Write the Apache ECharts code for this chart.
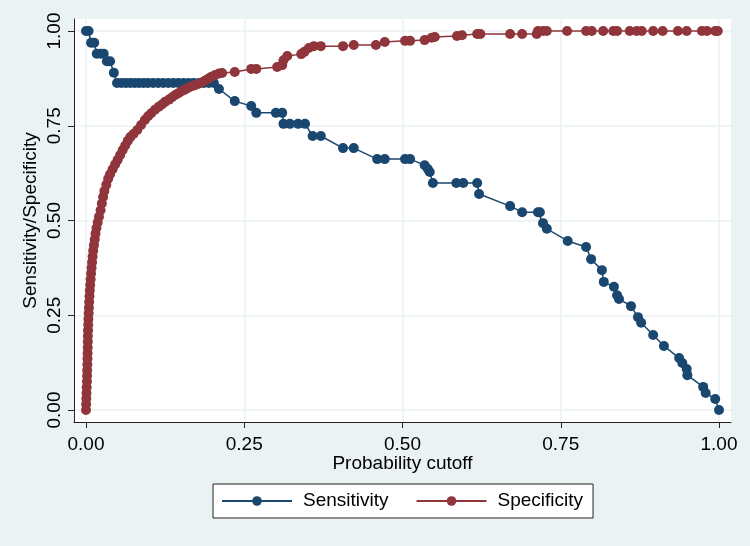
<!DOCTYPE html>
<html>
<head>
<meta charset="utf-8">
<script src="https://cdn.jsdelivr.net/npm/echarts@6/dist/echarts.min.js"></script>
<style>
html,body{margin:0;padding:0;background:#EAF2F3;}
#chart{width:750px;height:546px;}
</style>
</head>
<body>
<div id="chart"></div>
<script>
// ---- data ----
const seriesNames = ["Sensitivity", "Specificity"];
const tickValues = [0, 0.25, 0.5, 0.75, 1];
const xTitle = "Probability cutoff";
const yTitle = "Sensitivity/Specificity";

const sensX = [0, 0.004, 0.008, 0.013, 0.017, 0.023, 0.028, 0.033, 0.038, 0.044,
  0.049, 0.056, 0.063, 0.070, 0.077, 0.084, 0.091, 0.098, 0.106, 0.114, 0.122, 0.130,
  0.138, 0.146, 0.154, 0.162, 0.170, 0.178, 0.186, 0.194, 0.202,
  0.210, 0.235, 0.261, 0.269, 0.300, 0.310, 0.312, 0.322, 0.335, 0.346, 0.358, 0.371,
  0.406, 0.423, 0.460, 0.472, 0.504, 0.512, 0.535, 0.540, 0.543, 0.548, 0.585, 0.596,
  0.618, 0.621, 0.670, 0.689, 0.714, 0.717, 0.722, 0.728, 0.761, 0.790, 0.798, 0.815,
  0.818, 0.834, 0.839, 0.842, 0.861, 0.872, 0.877, 0.896, 0.913, 0.937, 0.942, 0.949,
  0.950, 0.975, 0.979, 0.994, 1.000];
const sensY = [1, 1, 0.969, 0.969, 0.94, 0.94, 0.94, 0.92, 0.92, 0.89,
  0.863, 0.863, 0.863, 0.863, 0.863, 0.863, 0.863, 0.863, 0.863, 0.863, 0.863, 0.863,
  0.863, 0.863, 0.863, 0.863, 0.863, 0.863, 0.863, 0.863, 0.863,
  0.847, 0.815, 0.802, 0.784, 0.784, 0.784, 0.755, 0.755, 0.755, 0.755, 0.723, 0.723,
  0.691, 0.691, 0.662, 0.662, 0.662, 0.662, 0.646, 0.636, 0.628, 0.599, 0.599, 0.599,
  0.599, 0.570, 0.538, 0.522, 0.522, 0.522, 0.493, 0.478, 0.446, 0.430, 0.398, 0.369,
  0.338, 0.325, 0.303, 0.293, 0.274, 0.245, 0.230, 0.198, 0.169, 0.137, 0.124, 0.108,
  0.092, 0.061, 0.045, 0.029, 0.000];

const specX = [0, 0.0002, 0.0005, 0.0008, 0.0011, 0.0015, 0.0017, 0.0019, 0.0021, 0.0023,
  0.0025, 0.0027, 0.0029, 0.0030, 0.0032, 0.0035, 0.0038, 0.0042, 0.0046, 0.0050,
  0.0055, 0.0060, 0.0066, 0.0073, 0.0080, 0.0088, 0.0096, 0.0104, 0.0113, 0.0125,
  0.0138, 0.0150, 0.0165, 0.0185, 0.0205, 0.023, 0.025,
  0.027, 0.029, 0.032, 0.035, 0.038, 0.042, 0.046, 0.050, 0.054, 0.058, 0.062, 0.066,
  0.070, 0.075, 0.081, 0.087, 0.093, 0.098, 0.103, 0.109, 0.115, 0.120, 0.125, 0.131,
  0.136, 0.141, 0.146, 0.151, 0.156, 0.161, 0.167, 0.172, 0.177, 0.183, 0.188, 0.193,
  0.198, 0.204, 0.210, 0.215, 0.235, 0.261, 0.269, 0.302, 0.310, 0.312, 0.318, 0.340,
  0.345, 0.352, 0.360, 0.371, 0.406, 0.423, 0.458, 0.472, 0.504, 0.512, 0.535, 0.546,
  0.551, 0.586, 0.594, 0.618, 0.623, 0.670, 0.689, 0.712, 0.714, 0.722, 0.728, 0.760,
  0.790, 0.799, 0.817, 0.833, 0.839, 0.859, 0.870, 0.878, 0.896, 0.911, 0.935, 0.949,
  0.973, 0.981, 0.994, 0.998];
const specY = [0, 0.015, 0.03, 0.045, 0.06, 0.075, 0.09, 0.105, 0.12, 0.135,
  0.15, 0.165, 0.18, 0.195, 0.21, 0.225, 0.24, 0.255, 0.27, 0.285,
  0.30, 0.315, 0.33, 0.345, 0.36, 0.375, 0.39, 0.405, 0.42, 0.435,
  0.45, 0.465, 0.48, 0.495, 0.51, 0.527, 0.545,
  0.562, 0.578, 0.594, 0.61, 0.622, 0.635, 0.648, 0.66, 0.673, 0.686, 0.698, 0.71,
  0.72, 0.728, 0.739, 0.752, 0.765, 0.775, 0.783, 0.792, 0.80, 0.806, 0.813, 0.819,
  0.825, 0.831, 0.836, 0.841, 0.845, 0.85, 0.854, 0.857, 0.86, 0.864, 0.869, 0.874,
  0.879, 0.884, 0.888, 0.889, 0.892, 0.90, 0.90, 0.905, 0.91, 0.923, 0.934, 0.939,
  0.945, 0.955, 0.96, 0.96, 0.96, 0.963, 0.963, 0.971, 0.974, 0.974, 0.976, 0.982,
  0.984, 0.987, 0.989, 0.992, 0.992, 0.992, 0.992, 0.992, 1, 1, 1, 1,
  1, 1, 1, 1, 1, 1, 1, 1, 1, 1, 1, 1,
  1, 1, 1, 1];

// ---- chart ----
const FONT = "'Liberation Sans', Arial, Helvetica, sans-serif";
const FS = 19;
const BLUE = "#1A476F", RED = "#90353B";
const pair = (xs, ys) => xs.map((x, i) => [x, ys[i]]);
const fmt = v => Number(v).toFixed(2);

const chart = echarts.init(document.getElementById('chart'), null, {renderer: 'canvas'});
const option = {
  backgroundColor: "#EAF2F3",
  animation: false,
  textStyle: {fontFamily: FONT},
  grid: {left: 74, top: 19, width: 657, height: 403, show: true, backgroundColor: "#ffffff", borderWidth: 0},
  xAxis: {
    type: 'value', min: -12 / 633, max: 1 + 12 / 633,
    name: xTitle, nameLocation: 'middle', nameGap: 32, nameMoveOverlap: false,
    nameTextStyle: {fontFamily: FONT, fontSize: FS, color: '#000'},
    axisLine: {show: true, onZero: false, lineStyle: {color: '#222', width: 1}},
    axisTick: {show: true, length: 6, customValues: tickValues, lineStyle: {color: '#222'}},
    axisLabel: {customValues: tickValues, formatter: fmt, fontFamily: FONT, fontSize: FS, color: '#000', margin: 13},
    splitLine: {show: true, lineStyle: {color: '#EAF2F3', width: 1.5}}
  },
  yAxis: {
    type: 'value', min: -12 / 379, max: 1 + 12 / 379,
    name: yTitle, nameLocation: 'middle', nameGap: 34, nameMoveOverlap: false,
    nameTextStyle: {fontFamily: FONT, fontSize: FS, color: '#000'},
    axisLine: {show: true, onZero: false, lineStyle: {color: '#222', width: 1}},
    axisTick: {show: true, length: 6, customValues: tickValues, lineStyle: {color: '#222'}},
    axisLabel: {customValues: tickValues, formatter: fmt, rotate: 90, fontFamily: FONT, fontSize: FS, color: '#000', margin: 10},
    splitLine: {show: true, lineStyle: {color: '#EAF2F3', width: 1.5}}
  },
  legend: {
    left: 213, top: 484,
    data: seriesNames,
    itemWidth: 70, itemHeight: 12, itemGap: 27,
    padding: [7, 10, 7, 8],
    borderColor: '#222', borderWidth: 1, backgroundColor: '#fff', borderRadius: 0,
    textStyle: {fontFamily: FONT, fontSize: FS, color: '#000', lineHeight: 20, padding: [0, 0, 0, 6]}
  },
  series: [
    {
      name: seriesNames[0], type: 'line', data: pair(sensX, sensY),
      symbol: 'circle', symbolSize: 10, showSymbol: true,
      color: BLUE, lineStyle: {color: BLUE, width: 1.5}, itemStyle: {color: BLUE},
      clip: false
    },
    {
      name: seriesNames[1], type: 'line', data: pair(specX, specY),
      symbol: 'circle', symbolSize: 10, showSymbol: true,
      color: RED, lineStyle: {color: RED, width: 1.5}, itemStyle: {color: RED},
      clip: false
    }
  ]
};
chart.setOption(option);
</script>
</body>
</html>
